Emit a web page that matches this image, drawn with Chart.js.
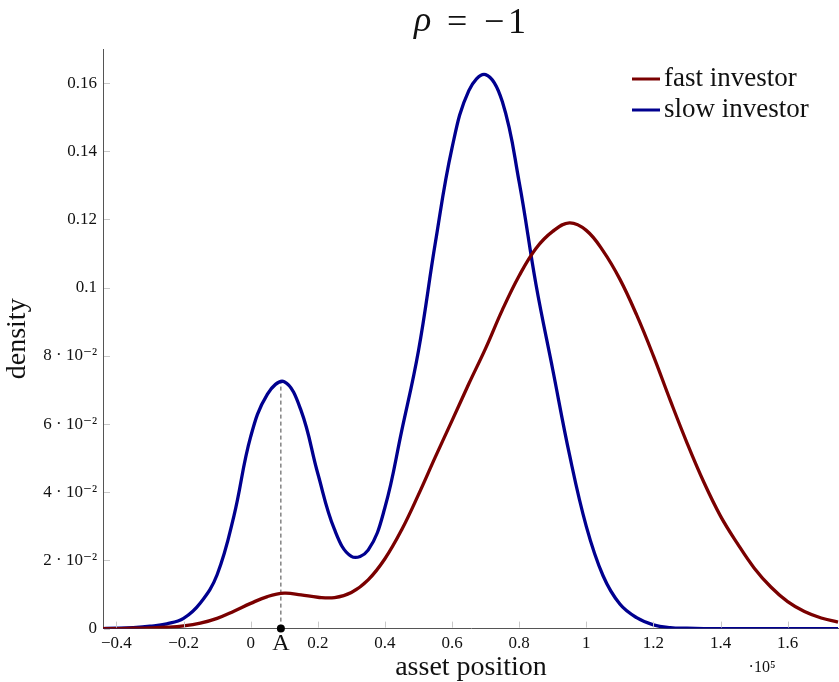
<!DOCTYPE html>
<html>
<head>
<meta charset="utf-8">
<script src="https://cdn.jsdelivr.net/npm/chart.js@4.4.1/dist/chart.umd.min.js"></script>
<style>
  html, body { margin: 0; padding: 0; background: #fff; }
  #wrap { width: 839px; height: 682px; }
</style>
</head>
<body>
<div id="wrap"><canvas id="densityChart"></canvas></div>
<script>
// asset position (x 10^5), every 0.05
const positions = [-0.45, -0.4, -0.35, -0.3, -0.25, -0.2, -0.15, -0.1, -0.05, 0, 0.05, 0.1, 0.15, 0.2, 0.25, 0.3, 0.35, 0.4, 0.45, 0.5, 0.55, 0.6, 0.65, 0.7, 0.75, 0.8, 0.85, 0.9, 0.95, 1.0, 1.05, 1.1, 1.15, 1.2, 1.25, 1.3, 1.35, 1.4, 1.45, 1.5, 1.55, 1.6, 1.65, 1.7, 1.75];

const fastDensity = [0, 0, 0.0001, 0.0002, 0.0004, 0.0008, 0.0016, 0.003, 0.0051, 0.0074, 0.0094, 0.0104, 0.0099, 0.0092, 0.0091, 0.0106, 0.0143, 0.0205, 0.029, 0.0393, 0.0503, 0.061, 0.0718, 0.0822, 0.0935, 0.1035, 0.1115, 0.1165, 0.119, 0.1168, 0.1108, 0.1025, 0.092, 0.080, 0.067, 0.0545, 0.043, 0.033, 0.025, 0.0178, 0.0122, 0.0079, 0.005, 0.0031, 0.0019];

const slowDensity = [0, 0.0001, 0.0003, 0.0007, 0.0014, 0.003, 0.0075, 0.0158, 0.033, 0.0563, 0.0688, 0.0724, 0.064, 0.0455, 0.029, 0.0212, 0.023, 0.0355, 0.058, 0.0815, 0.113, 0.141, 0.1578, 0.1625, 0.1545, 0.131, 0.101, 0.076, 0.051, 0.030, 0.0155, 0.0072, 0.0032, 0.0011, 0.0003, 0.0001, 0, 0, 0, 0, 0, 0, 0, 0, 0];

// point A and the dashed guide up to the first slow peak
const markerX = [0.09, 0.09];
const markerY = [0, 0.0726];

const xTickValues = [-0.4, -0.2, 0, 0.2, 0.4, 0.6, 0.8, 1, 1.2, 1.4, 1.6];
const xTickLabels = ['\u22120.4', '\u22120.2', '0', '0.2', '0.4', '0.6', '0.8', '1', '1.2', '1.4', '1.6'];
const yTickValues = [0, 0.02, 0.04, 0.06, 0.08, 0.1, 0.12, 0.14, 0.16];
const yTickLabels = ['0', '2 \u00b7 10\u207b\u00b2', '4 \u00b7 10\u207b\u00b2', '6 \u00b7 10\u207b\u00b2', '8 \u00b7 10\u207b\u00b2', '0.1', '0.12', '0.14', '0.16'];

const seriesNames = ['fast investor', 'slow investor'];
const seriesColors = ['#7a0000', '#00008f'];

const FONT = "'Liberation Serif', 'DejaVu Serif', serif";

function toPoints(xs, ys) {
    return xs.map((x, i) => ({ x: x, y: ys[i] }));
}

// inward tick marks, title, legend, A label and the 10^5 factor
const decorations = {
    id: 'decorations',
    afterDraw(chart) {
        const ctx = chart.ctx;
        const area = chart.chartArea;
        const xs = chart.scales.x;
        const ys = chart.scales.y;

        ctx.save();
        ctx.strokeStyle = '#c8c8c8';
        ctx.lineWidth = 1;
        xTickValues.forEach(v => {
            const px = Math.round(xs.getPixelForValue(v)) + 0.5;
            ctx.beginPath();
            ctx.moveTo(px, area.bottom - 1);
            ctx.lineTo(px, area.bottom - 7);
            ctx.stroke();
        });
        yTickValues.forEach(v => {
            const py = Math.round(ys.getPixelForValue(v)) + 0.5;
            ctx.beginPath();
            ctx.moveTo(area.left + 1, py);
            ctx.lineTo(area.left + 7, py);
            ctx.stroke();
        });

        // marker dot at A
        ctx.fillStyle = '#000';
        ctx.beginPath();
        ctx.arc(xs.getPixelForValue(markerX[0]), ys.getPixelForValue(0), 4, 0, Math.PI * 2);
        ctx.fill();

        ctx.fillStyle = '#111';
        ctx.textAlign = 'center';
        ctx.textBaseline = 'middle';
        ctx.font = '24px ' + FONT;
        ctx.fillText('A', xs.getPixelForValue(markerX[0]), 644);

        // title, pieces spaced like the typeset formula
        ctx.textAlign = 'left';
        ctx.textBaseline = 'alphabetic';
        ctx.font = 'italic 36px ' + FONT;
        ctx.fillText('\u03c1', 414, 31);
        ctx.font = '36px ' + FONT;
        ctx.fillText('=', 447, 33);
        ctx.fillText('\u2212', 484, 33);
        ctx.fillText('1', 508, 33);

        // multiplier
        ctx.textBaseline = 'middle';
        ctx.font = '16px ' + FONT;
        ctx.textAlign = 'center';
        ctx.fillText('\u00b710\u2075', 762, 668);

        // legend
        ctx.font = '27px ' + FONT;
        ctx.textAlign = 'left';
        seriesNames.forEach((name, i) => {
            const y = 79 + i * 31;
            ctx.strokeStyle = seriesColors[i];
            ctx.lineWidth = 3;
            ctx.beginPath();
            ctx.moveTo(632, y);
            ctx.lineTo(660, y);
            ctx.stroke();
            ctx.fillStyle = '#111';
            ctx.fillText(name, 664, y);
        });
        ctx.restore();
    }
};

const chart = new Chart(document.getElementById('densityChart'), {
    type: 'line',
    data: {
        datasets: [
            {
                label: seriesNames[0],
                data: toPoints(positions, fastDensity),
                borderColor: seriesColors[0],
                borderWidth: 3.3,
                pointRadius: 0,
                tension: 0.4
            },
            {
                label: seriesNames[1],
                data: toPoints(positions, slowDensity),
                borderColor: seriesColors[1],
                borderWidth: 3.3,
                pointRadius: 0,
                tension: 0.4
            },
            {
                label: 'A',
                data: toPoints(markerX, markerY),
                borderColor: '#444',
                borderWidth: 1,
                borderDash: [4, 3],
                pointRadius: 0
            }
        ]
    },
    options: {
        responsive: true,
        maintainAspectRatio: false,
        animation: false,
        layout: { padding: { top: 49, right: 0, left: 0, bottom: 0 } },
        plugins: {
            legend: { display: false },
            tooltip: { enabled: false }
        },
        scales: {
            x: {
                type: 'linear',
                min: -0.44,
                max: 1.753,
                grid: { display: false, drawTicks: false },
                border: { display: true, color: '#555', width: 1 },
                afterBuildTicks: scale => {
                    scale.ticks = xTickValues.map(v => ({ value: v }));
                },
                afterFit: scale => { scale.height = 53.4; },
                ticks: {
                    autoSkip: false,
                    maxRotation: 0,
                    padding: 5,
                    color: '#111',
                    font: { family: FONT, size: 17 },
                    callback: (v, i) => xTickLabels[i]
                },
                title: {
                    display: true,
                    text: 'asset position',
                    color: '#111',
                    font: { family: FONT, size: 28, lineHeight: 1 },
                    padding: { top: 0, bottom: 0 }
                }
            },
            y: {
                min: 0,
                max: 0.17,
                grid: { display: false, drawTicks: false },
                border: { display: true, color: '#555', width: 1 },
                afterBuildTicks: scale => {
                    scale.ticks = yTickValues.map(v => ({ value: v }));
                },
                afterFit: scale => { scale.width = 103; },
                ticks: {
                    autoSkip: false,
                    padding: 6,
                    color: '#111',
                    font: { family: FONT, size: 17 },
                    callback: (v, i) => yTickLabels[i]
                },
                title: {
                    display: true,
                    text: 'density',
                    color: '#111',
                    font: { family: FONT, size: 28, lineHeight: 1 },
                    padding: { top: 4, bottom: 0 }
                }
            }
        }
    },
    plugins: [decorations]
});
</script>
</body>
</html>
